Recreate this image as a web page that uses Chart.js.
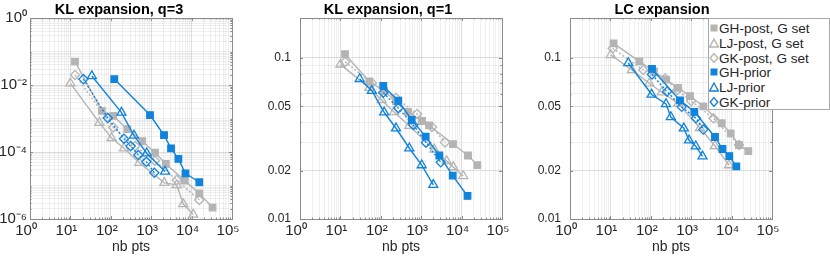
<!DOCTYPE html>
<html><head><meta charset="utf-8">
<script src="https://cdn.jsdelivr.net/npm/chart.js@4.4.1/dist/chart.umd.min.js"></script>
<style>
html,body{margin:0;padding:0;background:#fff;}
#wrap{position:relative;width:830px;height:261px;overflow:hidden;background:#fff;}
#wrap canvas{position:absolute;left:0;top:0;}
#legend{position:absolute;left:708px;top:18px;width:120px;height:90px;border:1px solid #a8a8a8;background:#fff;font:13.6px "Liberation Sans",Arial,sans-serif;color:#262626;}
.row{position:absolute;left:0;height:15px;line-height:15px;white-space:nowrap;}
.row svg{position:absolute;left:0;top:2px;}
.row span{position:absolute;left:10px;top:0;}
</style></head><body>
<div id="wrap">
<canvas id="c1" width="830" height="261"></canvas>
<canvas id="c2" width="830" height="261"></canvas>
<canvas id="c3" width="830" height="261"></canvas>
<div id="legend"></div>
</div>
<script>
// ---------- tick labels ----------
const xTickValues = [1, 10, 100, 1000, 10000, 100000];
const xTickLabels = ['10⁰', '10¹', '10²', '10³', '10⁴', '10⁵'];
const y1TickValues = [1e-6, 1e-4, 1e-2, 1];
const y1TickLabels = ['10⁻⁶', '10⁻⁴', '10⁻²', '10⁰'];
const y23TickValues = [0.01, 0.02, 0.05, 0.1];
const y23TickLabels = ['0.01', '0.02', '0.05', '0.1'];

const panelTitles = ['KL expansion, q=3', 'KL expansion, q=1', 'LC expansion'];
const seriesNames = ['GH-post, G set', 'LJ-post, G set', 'GK-post, G set', 'GH-prior', 'LJ-prior', 'GK-prior'];

// ---------- panel 1 : KL expansion, q=3 ----------
const kl3_ghPost_n   = [13, 60, 115, 256, 600, 1240, 2300, 6800, 15500, 33000];
const kl3_ghPost_err = [5.0e-2, 1.7e-3, 1.2e-3, 4.8e-4, 2.1e-4, 9.6e-5, 4.4e-5, 1.4e-5, 5.8e-6, 2.2e-6];
const kl3_ljPost_n   = [10, 52, 105, 212, 508, 2110, 4270, 6240, 11000];
const kl3_ljPost_err = [1.12e-2, 7.5e-4, 2.6e-4, 1.3e-4, 4.8e-5, 1.2e-5, 1.04e-5, 2.8e-6, 1.36e-6];
const kl3_gkPost_n   = [13, 115, 400, 1240, 4270, 15500];
const kl3_gkPost_err = [2.0e-2, 5.4e-4, 1.5e-4, 5.5e-5, 1.46e-5, 3.7e-6];
const kl3_ghPrior_n   = [122, 935, 2075, 3100, 4700, 7050, 15500];
const kl3_ghPrior_err = [1.5e-2, 1.27e-3, 3.2e-4, 1.29e-4, 6.2e-5, 2.3e-5, 1.25e-5];
const kl3_ljPrior_n   = [34, 184, 375, 775, 2200];
const kl3_ljPrior_err = [1.85e-2, 1.5e-3, 3.1e-4, 9.2e-5, 2.6e-5];
const kl3_gkPrior_n   = [21, 84, 212, 310, 480, 760, 1195];
const kl3_gkPrior_err = [1.5e-2, 1.03e-3, 2.5e-4, 1.5e-4, 8.1e-5, 5.1e-5, 2.4e-5];

// ---------- panel 2 : KL expansion, q=1 ----------
const kl1_ghPost_n   = [13, 52, 120, 238, 471, 1048, 1560, 6120, 14400, 24500];
const kl1_ghPost_err = [0.1054, 0.0715, 0.0624, 0.054, 0.0462, 0.0406, 0.0381, 0.0292, 0.0248, 0.0216];
const kl1_ljPost_n   = [10, 52, 105, 212, 508, 2110, 4270, 6240, 11000];
const kl1_ljPost_err = [0.0912, 0.0652, 0.0548, 0.0462, 0.0379, 0.027, 0.0229, 0.021, 0.0185];
const kl1_gkPost_n   = [13, 60, 238, 787, 1850, 3890];
const kl1_gkPost_err = [0.0945, 0.070, 0.0565, 0.0449, 0.0373, 0.0299];
const kl1_ghPrior_n   = [115, 271, 582, 1290, 2810, 6030, 14000];
const kl1_ghPrior_err = [0.067, 0.0543, 0.0412, 0.0325, 0.0248, 0.0186, 0.0139];
const kl1_ljPrior_n   = [30, 60, 121, 238, 508, 1030, 1990];
const kl1_ljPrior_err = [0.0741, 0.0626, 0.046, 0.0366, 0.0275, 0.0216, 0.0163];
const kl1_gkPrior_n   = [115, 271, 637, 1315, 3040];
const kl1_gkPrior_err = [0.0609, 0.0488, 0.0384, 0.0298, 0.0225];

// ---------- panel 3 : LC expansion ----------
const lc_ghPost_n   = [12, 52, 120, 238, 471, 933, 2000, 5690, 9500, 15200, 25900];
const lc_ghPost_err = [0.1233, 0.0953, 0.0824, 0.0733, 0.0652, 0.058, 0.05, 0.0393, 0.034, 0.0288, 0.0264];
const lc_ljPost_n   = [10.2, 34, 92, 186, 479, 1650, 3880, 8630];
const lc_ljPost_err = [0.1044, 0.0842, 0.0697, 0.0612, 0.0521, 0.0367, 0.0284, 0.0216];
const lc_gkPost_n   = [11.4, 65, 225, 453, 1000, 3560, 15200];
const lc_gkPost_err = [0.1148, 0.0842, 0.0746, 0.0633, 0.054, 0.0422, 0.0288];
const lc_ghPrior_n   = [107, 528, 1195, 3880, 5950, 8770, 13100];
const lc_ghPrior_err = [0.0855, 0.0545, 0.0463, 0.0323, 0.0272, 0.0246, 0.0212];
const lc_ljPrior_n   = [27.7, 105, 238, 313, 656, 883, 1300, 1905];
const lc_ljPrior_err = [0.093, 0.0593, 0.0518, 0.043, 0.0366, 0.0308, 0.0283, 0.0245];
const lc_gkPrior_n   = [107, 252, 582, 1315, 1990];
const lc_gkPrior_err = [0.079, 0.0618, 0.0497, 0.0422, 0.0359];

// ---------- styles ----------
const FONT = '"Liberation Sans", Arial, Helvetica, sans-serif';
const GRAY = '#b4b4b4';
const BLUE = '#1083dd';
const FRAME = '#8a8a8a';
const GRID_MAJ = 'rgba(0,0,0,0.13)';
const GRID_MIN = 'rgba(0,0,0,0.06)';
const styles = [
  {color: GRAY, shape: 'rect',    filled: true,  dash: [],     r: 4.6},
  {color: GRAY, shape: 'triangle',filled: false, dash: [],     r: 5.2},
  {color: GRAY, shape: 'rectRot', filled: false, dash: [2, 2], r: 4.6},
  {color: BLUE, shape: 'rect',    filled: true,  dash: [],     r: 4.6},
  {color: BLUE, shape: 'triangle',filled: false, dash: [],     r: 5.2},
  {color: BLUE, shape: 'rectRot', filled: false, dash: [2, 2], r: 4.6}
];

function buildTicks(min, max, labVals, labTxt) {
  const out = [];
  const e0 = Math.floor(Math.log10(min) + 1e-9), e1 = Math.ceil(Math.log10(max) - 1e-9);
  for (let e = e0; e <= e1; e++) for (let k = 1; k <= 9; k++) {
    const v = k * Math.pow(10, e);
    if (v < min * (1 - 1e-9) || v > max * (1 + 1e-9)) continue;
    const idx = labVals.findIndex(l => Math.abs(l - v) <= 1e-9 * Math.max(l, v));
    out.push({value: v, txt: idx >= 0 ? labTxt[idx] : '', mj: idx >= 0});
  }
  return out;
}

const framePlugin = {
  id: 'frame',
  afterLayout(chart, args, opts) {
    const tb = chart.titleBlock;
    const dx = chart.options.plugins.frame.titleShift || 0;
    if (tb) { tb.left += dx; tb.right += dx; }
  },
  beforeDatasetsDraw(chart) {
    const {ctx, chartArea: a, scales} = chart;
    ctx.save();
    ctx.strokeStyle = FRAME; ctx.lineWidth = 1;
    ctx.beginPath();
    scales.x.ticks.forEach(t => {
      const px = Math.round(scales.x.getPixelForValue(t.value)) + 0.5;
      const len = t.mj ? 3 : 1.5;
      ctx.moveTo(px, a.bottom); ctx.lineTo(px, a.bottom - len);
      ctx.moveTo(px, a.top); ctx.lineTo(px, a.top + len);
    });
    scales.y.ticks.forEach(t => {
      const py = Math.round(scales.y.getPixelForValue(t.value)) + 0.5;
      const len = t.mj ? 3 : 1.5;
      ctx.moveTo(a.left, py); ctx.lineTo(a.left + len, py);
      ctx.moveTo(a.right, py); ctx.lineTo(a.right - len, py);
    });
    ctx.stroke();
    ctx.strokeRect(Math.round(a.left) + 0.5, Math.round(a.top) + 0.5, Math.round(a.right - a.left), Math.round(a.bottom - a.top));
    ctx.restore();
  }
};

function makePanel(id, title, titleShift, padL, yW, padR, yMin, yMax, yVals, yTxt, yFont, yPad, ns, es) {
  const datasets = [];
  const order = [3, 4, 5, 0, 1, 2];
  order.forEach((i, k) => {
    const st = styles[i];
    datasets.push({
      label: seriesNames[i],
      data: ns[i].map((n, j) => ({x: n, y: es[i][j]})),
      borderColor: st.color,
      backgroundColor: st.filled ? st.color : 'rgba(0,0,0,0)',
      borderWidth: 1.4,
      borderDash: st.dash,
      pointStyle: st.shape,
      pointRadius: st.r,
      pointBorderWidth: 1.3,
      pointBackgroundColor: st.filled ? st.color : 'rgba(255,255,255,0)',
      pointBorderColor: st.color,
      tension: 0,
      fill: false,
      order: k
    });
  });
  new Chart(document.getElementById(id), {
    type: 'line',
    data: {datasets},
    options: {
      responsive: false, animation: false, devicePixelRatio: 1,
      layout: {padding: {left: padL, right: padR, top: 1.2, bottom: 0}},
      plugins: {
        legend: {display: false}, tooltip: {enabled: false},
        frame: {titleShift},
        title: {display: true, text: title, fullSize: false, color: '#000',
          font: {family: FONT, size: 14.5, weight: 'bold', lineHeight: 1.16}, padding: {top: 0, bottom: 0}}
      },
      scales: {
        x: {
          type: 'logarithmic', min: 1, max: 1e5,
          afterBuildTicks: s => { s.ticks = buildTicks(1, 1e5, xTickValues, xTickLabels); },
          afterFit: s => { s.height = 42; },
          ticks: {autoSkip: false, maxRotation: 0, minRotation: 0, padding: 3, labelOffset: -4, color: '#262626',
            font: {family: FONT, size: 15}, callback: (v, i, t) => t[i].txt},
          grid: {drawTicks: false, color: c => (c.tick && c.tick.mj) ? GRID_MAJ : GRID_MIN},
          border: {display: true, color: FRAME},
          title: {display: true, text: 'nb pts', color: '#262626', font: {family: FONT, size: 14}, padding: {top: 0, bottom: 5}}
        },
        y: {
          type: 'logarithmic', min: yMin, max: yMax,
          afterBuildTicks: s => { s.ticks = buildTicks(yMin, yMax, yVals, yTxt); },
          afterFit: s => { s.width = yW; },
          ticks: {autoSkip: false, padding: yPad, color: '#262626',
            font: {family: FONT, size: yFont}, callback: (v, i, t) => t[i].txt},
          grid: {drawTicks: false, color: c => (c.tick && c.tick.mj) ? GRID_MAJ : GRID_MIN},
          border: {display: true, color: FRAME}
        }
      }
    },
    plugins: [framePlugin]
  });
}

makePanel('c1', panelTitles[0], -12, 0, 30, 598, 1e-6, 1, y1TickValues, y1TickLabels, 15, 3,
  [kl3_ghPost_n, kl3_ljPost_n, kl3_gkPost_n, kl3_ghPrior_n, kl3_ljPrior_n, kl3_gkPrior_n],
  [kl3_ghPost_err, kl3_ljPost_err, kl3_gkPost_err, kl3_ghPrior_err, kl3_ljPrior_err, kl3_gkPrior_err]);
makePanel('c2', panelTitles[1], -13, 260, 40, 328, 0.01, 0.177, y23TickValues, y23TickLabels, 12, 9,
  [kl1_ghPost_n, kl1_ljPost_n, kl1_gkPost_n, kl1_ghPrior_n, kl1_ljPrior_n, kl1_gkPrior_n],
  [kl1_ghPost_err, kl1_ljPost_err, kl1_gkPost_err, kl1_ghPrior_err, kl1_ljPrior_err, kl1_gkPrior_err]);
makePanel('c3', panelTitles[2], -9, 530, 40, 58, 0.01, 0.177, y23TickValues, y23TickLabels, 12, 9,
  [lc_ghPost_n, lc_ljPost_n, lc_gkPost_n, lc_ghPrior_n, lc_ljPrior_n, lc_gkPrior_n],
  [lc_ghPost_err, lc_ljPost_err, lc_gkPost_err, lc_ghPrior_err, lc_ljPrior_err, lc_gkPrior_err]);

// ---------- legend ----------
function markerSvg(st) {
  const c = st.color;
  let shape;
  if (st.shape === 'rect') shape = `<rect x="1.5" y="1.5" width="7" height="7" fill="${c}"/>`;
  else if (st.shape === 'triangle') shape = `<polygon points="5,1 9.3,9 0.7,9" fill="none" stroke="${c}" stroke-width="1.4"/>`;
  else shape = `<polygon points="5,0.6 8.8,5 5,9.4 1.2,5" fill="none" stroke="${c}" stroke-width="1.4"/>`;
  return `<svg width="10" height="10" viewBox="0 0 10 10">${shape}</svg>`;
}
const leg = document.getElementById('legend');
seriesNames.forEach((name, i) => {
  const row = document.createElement('div');
  row.className = 'row';
  row.style.top = (2 + 14.8 * i) + 'px';
  row.innerHTML = markerSvg(styles[i]) + `<span>${name}</span>`;
  leg.appendChild(row);
});
</script>
</body></html>
